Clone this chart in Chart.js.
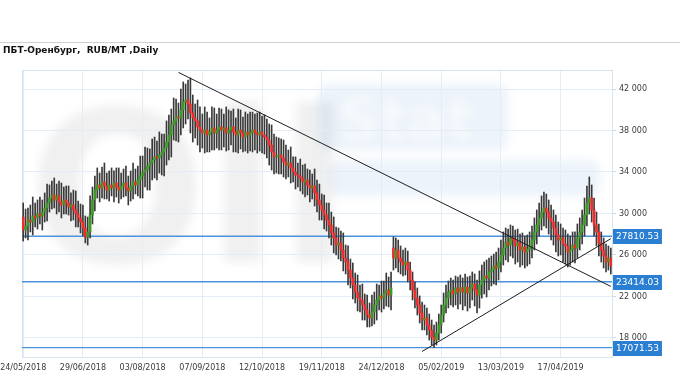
<!DOCTYPE html>
<html lang="ru">

<head>
    <meta charset="UTF-8">
    <title>ПБТ-Оренбург</title>
    <style>
        html, body { margin: 0; padding: 0; background: #fff; }
        #wrap { width: 680px; height: 380px; }
    </style>
</head>

<body>
    <div id="wrap"><canvas id="priceChart" width="680" height="380"></canvas></div>
    <script src="https://cdn.jsdelivr.net/npm/chart.js"></script>
    <script>

        const chartTitle = "ПБТ-Оренбург,  RUB/MT ,Daily"

        // one date label every 25 bars
        const tickStep = 25
        const dateTicks = ["24/05/2018", "29/06/2018", "03/08/2018", "07/09/2018", "12/10/2018",
            "19/11/2018", "24/12/2018", "05/02/2019", "13/03/2019", "17/04/2019"]

        const yTicks = [18000, 22000, 26000, 30000, 34000, 38000, 42000]

        const opens = [
            29660, 28410, 28790, 29370, 29180, 29760, 29570, 29950, 29760, 30140,
            30530, 31010, 31490, 31780, 31300, 31690, 31110, 30820, 31300, 31010,
            30630, 30820, 30340, 29950, 29570, 29180, 28600, 27730, 28220, 29850,
            31300, 32260, 32750, 32460, 33040, 32650, 32260, 32750, 32460, 32940,
            32550, 32260, 32650, 32940, 32460, 32170, 32650, 33040, 32750, 33230,
            33610, 34000, 34190, 34580, 34870, 35160, 35450, 35350, 35640, 35930,
            36310, 36890, 37570, 38530, 38920, 39300, 39210, 39980, 40750, 40940,
            40550, 39690, 39210, 38920, 38340, 38050, 37760, 38050, 37570, 37860,
            38240, 37760, 38050, 38340, 38050, 38240, 37760, 38050, 38340, 37860,
            37570, 38050, 37760, 37370, 37860, 37570, 37760, 38050, 37760, 37570,
            37860, 37570, 37370, 37080, 36600, 35930, 35450, 35540, 35640, 35350,
            34960, 34670, 34870, 34390, 34000, 33710, 33610, 33420, 33040, 33230,
            32750, 32460, 32650, 31980, 31300, 30820, 30340, 29850, 29370, 28890,
            28120, 27640, 26960, 27160, 26480, 25710, 25320, 24550, 23780, 23110,
            22430, 21850, 21660, 21180, 20700, 20210, 19930, 20500, 21180, 21660,
            22050, 21850, 22340, 22620, 22140, 26670, 25710, 26480, 25710, 25320,
            25030, 25320, 24550, 23590, 22620, 21850, 21180, 20410, 19730, 19930,
            19250, 18770, 18090, 17800, 18480, 19250, 20210, 21180, 21850, 22430,
            22620, 22240, 22820, 22430, 22820, 22430, 22910, 22340, 22820, 23200,
            22620, 22140, 23110, 23590, 23970, 23780, 24360, 24550, 24940, 24750,
            25320, 26000, 26670, 27250, 26960, 27640, 27440, 26870, 27160, 26480,
            26770, 26290, 26580, 26870, 27440, 28220, 28890, 29570, 30140, 30530,
            30140, 29570, 29180, 28600, 27930, 27440, 27640, 27060, 26870, 26290,
            26480, 26960, 26670, 27640, 28220, 28890, 29850, 31010, 31490, 30340,
            28890, 28220, 27160, 26480, 25900, 25320, 25710
        ]

        const highs = [
            31010, 30430, 30530, 30820, 31590, 31010, 31300, 31590, 31300, 31980,
            32840, 32750, 33130, 33420, 32840, 33130, 32940, 32550, 32650, 32650,
            31980, 32260, 32170, 31200, 30910, 30820, 29760, 29660, 31690, 32550,
            33610, 34390, 33900, 34480, 34870, 33900, 34100, 34390, 34100, 34390,
            34390, 33900, 34290, 34580, 33610, 34100, 34870, 34290, 34580, 35540,
            35540, 36410, 36310, 36220, 37180, 37370, 36990, 37860, 37660, 37660,
            38920, 39490, 40070, 41130, 41040, 40650, 42000, 42680, 42480, 42870,
            43060, 41420, 40550, 40940, 40270, 39590, 40270, 39780, 39210, 40270,
            40170, 39590, 40170, 40070, 39590, 40270, 39980, 39880, 40070, 39210,
            40070, 39980, 39300, 39780, 39590, 39780, 39780, 39590, 39690, 39780,
            39400, 39490, 39110, 38630, 38530, 37660, 37370, 37280, 37180, 37080,
            36600, 36120, 36410, 35450, 35450, 34870, 35250, 34670, 34770, 34290,
            34190, 33810, 34290, 33230, 32840, 31880, 31780, 31010, 31010, 30140,
            29660, 28700, 28600, 28310, 28120, 26960, 26870, 25610, 25230, 24260,
            24070, 23110, 23200, 22240, 22140, 21370, 22140, 22430, 23200, 23110,
            23490, 23490, 24260, 23880, 24360, 27730, 27640, 27440, 26870, 26480,
            26670, 26380, 25320, 24360, 23400, 22820, 22050, 21470, 21180, 20890,
            20310, 19730, 19250, 19540, 20310, 21180, 22340, 23110, 23490, 23780,
            23590, 23970, 23880, 24070, 23780, 24170, 23880, 23970, 24360, 24170,
            23590, 24460, 25030, 25320, 25520, 25710, 25900, 26090, 26290, 26670,
            27440, 28220, 28600, 28500, 28890, 28790, 28410, 28500, 28020, 28120,
            27830, 27930, 28220, 28790, 29570, 30340, 31010, 31690, 32070, 31880,
            31300, 30820, 30340, 29850, 29180, 28990, 28600, 28410, 28020, 27830,
            28220, 28220, 28990, 29570, 30340, 31490, 32650, 33520, 32750, 31490,
            30140, 28990, 28220, 27640, 27060, 26870, 26670
        ]

        const lows = [
            27350, 27640, 27440, 28220, 27930, 28700, 28500, 28990, 28410, 29180,
            29280, 30140, 30430, 30530, 29950, 30140, 29570, 29950, 29950, 29850,
            29280, 29370, 28700, 28700, 28120, 27830, 27160, 26960, 27640, 28990,
            30240, 31490, 31110, 31490, 31400, 31400, 31200, 31690, 31110, 31590,
            31010, 31400, 31590, 31690, 30820, 31200, 31400, 31880, 31690, 31490,
            31490, 32550, 32260, 32260, 33230, 33420, 33230, 33900, 33710, 33610,
            34670, 35160, 35450, 37080, 36990, 36890, 37570, 38240, 38630, 39110,
            37760, 36890, 37280, 36600, 35930, 36310, 35830, 35930, 35930, 36120,
            36120, 36310, 36120, 36120, 36410, 36020, 36120, 36600, 35930, 35930,
            35830, 36220, 35930, 36020, 35830, 36020, 35930, 36120, 35830, 36020,
            35830, 35730, 35350, 34670, 34190, 33810, 33900, 33810, 33810, 33520,
            33320, 33520, 32940, 33040, 32360, 32550, 32170, 31880, 31590, 31780,
            31110, 31400, 30720, 30140, 29370, 29370, 28500, 28310, 27640, 26960,
            26190, 26000, 25610, 25420, 24460, 24170, 23110, 22820, 21760, 21370,
            20600, 20500, 19730, 19730, 19060, 19060, 19150, 19350, 19730, 20700,
            20500, 20790, 21080, 20990, 20700, 24550, 24750, 24360, 24170, 23970,
            24070, 23400, 22620, 21660, 20890, 20210, 19440, 18770, 18770, 18290,
            17800, 17320, 17070, 17320, 17800, 18480, 19540, 20410, 20890, 21180,
            20990, 21180, 20790, 21270, 20700, 21080, 20600, 20890, 21660, 21080,
            20410, 20890, 21850, 22240, 21950, 22620, 23010, 23200, 23110, 23590,
            24360, 25030, 25520, 25320, 25900, 25710, 25130, 25320, 24840, 25030,
            24750, 24940, 25130, 25710, 26480, 27060, 27830, 28410, 28790, 28600,
            28020, 27440, 26960, 26290, 25900, 26000, 25320, 25130, 24840, 25030,
            25320, 25230, 25710, 26480, 27060, 27830, 28790, 29950, 29180, 27830,
            26870, 25900, 25320, 24750, 24360, 24550, 24170
        ]

        const closes = [
            28410, 28790, 29370, 29180, 29760, 29570, 29950, 29760, 30140, 30530,
            31010, 31490, 31780, 31300, 31690, 31110, 30820, 31300, 31010, 30630,
            30820, 30340, 29950, 29570, 29180, 28600, 27730, 28220, 29850, 31300,
            32260, 32750, 32460, 33040, 32650, 32260, 32750, 32460, 32940, 32550,
            32260, 32650, 32940, 32460, 32170, 32650, 33040, 32750, 33230, 33610,
            34000, 34190, 34580, 34870, 35160, 35450, 35350, 35640, 35930, 36310,
            36890, 37570, 38530, 38920, 39300, 39210, 39980, 40750, 40940, 40550,
            39690, 39210, 38920, 38340, 38050, 37760, 38050, 37570, 37860, 38240,
            37760, 38050, 38340, 38050, 38240, 37760, 38050, 38340, 37860, 37570,
            38050, 37760, 37370, 37860, 37570, 37760, 38050, 37760, 37570, 37860,
            37570, 37370, 37080, 36600, 35930, 35450, 35540, 35640, 35350, 34960,
            34670, 34870, 34390, 34000, 33710, 33610, 33420, 33040, 33230, 32750,
            32460, 32650, 31980, 31300, 30820, 30340, 29850, 29370, 28890, 28120,
            27640, 26960, 27160, 26480, 25710, 25320, 24550, 23780, 23110, 22430,
            21850, 21660, 21180, 20700, 20210, 19930, 20500, 21180, 21660, 22050,
            21850, 22340, 22620, 22140, 22820, 25710, 26480, 25710, 25320, 25030,
            25320, 24550, 23590, 22620, 21850, 21180, 20410, 19730, 19930, 19250,
            18770, 18090, 17800, 18480, 19250, 20210, 21180, 21850, 22430, 22620,
            22240, 22820, 22430, 22820, 22430, 22910, 22340, 22820, 23200, 22620,
            22140, 23110, 23590, 23970, 23780, 24360, 24550, 24940, 24750, 25320,
            26000, 26670, 27250, 26960, 27640, 27440, 26870, 27160, 26480, 26770,
            26290, 26580, 26870, 27440, 28220, 28890, 29570, 30140, 30530, 30140,
            29570, 29180, 28600, 27930, 27440, 27640, 27060, 26870, 26290, 26480,
            26960, 26670, 27640, 28220, 28890, 29850, 31010, 31490, 30340, 28890,
            28220, 27160, 26480, 25900, 25320, 25710, 24940
        ]

        // horizontal levels and the two trend lines (bar index, price)
        const levels = [27810.53, 23414.03, 17071.53]
        const trendDown = [{ x: 65, y: 43600 }, { x: 246, y: 22970 }]
        const trendUp = [{ x: 167, y: 16700 }, { x: 246, y: 27570 }]

        const barIndex = closes.map((c, i) => i)
        const wickData = barIndex.map(i => [lows[i], highs[i]])
        const bodyData = barIndex.map(i => [opens[i], closes[i]])
        const bodyColors = barIndex.map(i => closes[i] < opens[i] ? '#f52b2b' : '#3b9a26')

        function spaced(v) {
            return String(v).replace(/\B(?=(\d{3})+(?!\d))/g, ' ')
        }

        // faint site watermark behind the candles
        function drawWatermark(ctx) {
            ctx.save()
            ctx.filter = 'blur(5px)'
            ctx.fillStyle = 'rgba(110, 110, 110, 0.10)'
            ctx.font = 'bold 210px "DejaVu Sans"'
            ctx.fillText('Oil', 28, 262)
            ctx.fillStyle = 'rgba(70, 140, 210, 0.10)'
            ctx.beginPath()
            ctx.roundRect(318, 84, 190, 66, 10)
            ctx.fill()
            ctx.beginPath()
            ctx.roundRect(330, 160, 270, 36, 10)
            ctx.fill()
            ctx.fillStyle = 'rgba(255, 255, 255, 0.6)'
            ctx.font = 'bold 58px "DejaVu Sans"'
            ctx.fillText('Stat', 338, 140)
            ctx.restore()
        }

        const decor = {
            id: 'decor',
            beforeDraw(chart) {
                const ctx = chart.ctx
                ctx.save()
                ctx.fillStyle = '#fff'
                ctx.fillRect(0, 0, chart.width, chart.height)
                ctx.strokeStyle = '#cfcfcf'
                ctx.lineWidth = 1
                ctx.beginPath()
                ctx.moveTo(0, 42.5)
                ctx.lineTo(chart.width, 42.5)
                ctx.stroke()
                ctx.fillStyle = '#111'
                ctx.font = 'bold 9px "DejaVu Sans"'
                ctx.textBaseline = 'middle'
                ctx.fillText(chartTitle, 3, 51)
                ctx.restore()
                drawWatermark(ctx)
            },
            beforeDatasetsDraw(chart) {
                const ctx = chart.ctx
                const area = chart.chartArea
                const y = chart.scales.y
                ctx.save()
                ctx.strokeStyle = '#d6e4f2'
                ctx.lineWidth = 1
                ctx.strokeRect(Math.round(area.left) + 0.5, Math.round(area.top) + 0.5,
                    Math.round(area.right - area.left), Math.round(area.bottom - area.top))
                ctx.strokeStyle = '#4b93dc'
                ctx.lineWidth = 1.4
                levels.forEach(level => {
                    const py = y.getPixelForValue(level)
                    ctx.beginPath()
                    ctx.moveTo(area.left, py)
                    ctx.lineTo(area.right, py)
                    ctx.stroke()
                })
                ctx.restore()
            },
            afterDraw(chart) {
                const ctx = chart.ctx
                const area = chart.chartArea
                const y = chart.scales.y
                ctx.save()
                ctx.font = '9px "DejaVu Sans"'
                ctx.textBaseline = 'middle'
                levels.forEach(level => {
                    const py = y.getPixelForValue(level)
                    const text = level.toFixed(2)
                    const w = ctx.measureText(text).width + 6
                    ctx.fillStyle = '#2a7fd2'
                    ctx.fillRect(area.right + 1, Math.round(py) - 7, w, 15)
                    ctx.fillStyle = '#fff'
                    ctx.fillText(text, area.right + 4, Math.round(py) + 0.5)
                })
                ctx.restore()
            }
        }

        const axisFont = { family: 'DejaVu Sans', size: 8 }

        new Chart(document.getElementById('priceChart'), {
            type: 'bar',
            data: {
                labels: barIndex,
                datasets: [
                    {
                        type: 'line',
                        data: trendDown,
                        borderColor: '#1e1e1e',
                        borderWidth: 1,
                        pointRadius: 0,
                        order: 0
                    },
                    {
                        type: 'line',
                        data: trendUp,
                        borderColor: '#1e1e1e',
                        borderWidth: 1,
                        pointRadius: 0,
                        order: 0
                    },
                    {
                        data: bodyData,
                        backgroundColor: bodyColors,
                        barThickness: 2,
                        minBarLength: 1,
                        grouped: false,
                        order: 1
                    },
                    {
                        data: wickData,
                        backgroundColor: '#3a3a3a',
                        barThickness: 1,
                        grouped: false,
                        order: 2
                    }
                ]
            },
            options: {
                responsive: false,
                animation: false,
                layout: { padding: { left: 22, top: 70, right: 0, bottom: 0 } },
                plugins: {
                    legend: { display: false },
                    tooltip: { enabled: false }
                },
                scales: {
                    x: {
                        type: 'category',
                        offset: true,
                        grid: { offset: false, color: '#e4edf6', drawTicks: false },
                        border: { display: false },
                        afterBuildTicks: axis => {
                            axis.ticks = axis.ticks.filter(t => t.value % tickStep === 0)
                        },
                        ticks: {
                            autoSkip: false,
                            maxRotation: 0,
                            padding: 6,
                            color: '#3a3a3a',
                            font: axisFont,
                            callback: v => dateTicks[v / tickStep]
                        },
                        afterFit: scale => {
                            scale.height = 23
                            scale.paddingLeft = 0
                            scale.paddingRight = 0
                        }
                    },
                    y: {
                        position: 'right',
                        min: 16165,
                        max: 43832,
                        afterBuildTicks: axis => {
                            axis.ticks = yTicks.map(v => ({ value: v }))
                        },
                        grid: { color: '#e4edf6', tickLength: 4, tickColor: '#c9d9ea' },
                        border: { color: '#cfe0f0' },
                        ticks: {
                            padding: 3,
                            color: '#3a3a3a',
                            font: axisFont,
                            callback: v => spaced(v)
                        },
                        afterFit: scale => { scale.width = 68 }
                    }
                }
            },
            plugins: [decor]
        })

    </script>
</body>

</html>
